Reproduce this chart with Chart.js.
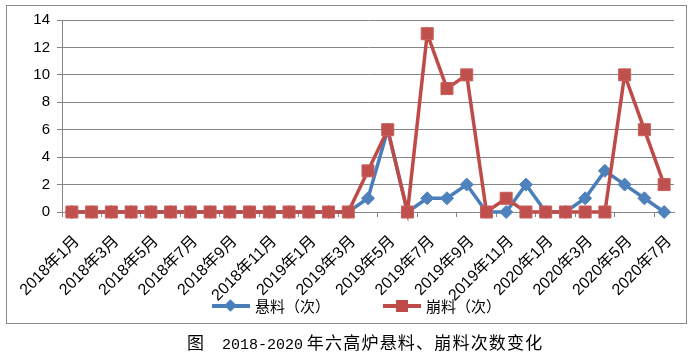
<!DOCTYPE html>
<html>
<head>
<meta charset="utf-8">
<script src="https://cdn.jsdelivr.net/npm/chart.js@4"></script>
<style>
  body { margin: 0; background: #fff; }
  #page { position: relative; width: 691px; height: 352px; overflow: hidden; }
  #frame { position: absolute; left: 6px; top: 5px; width: 679px; height: 317px; border: 1px solid #8a8a8a; }
  #wrap { position: absolute; left: 0; top: 0; width: 691px; height: 352px; }
  #legend { position: absolute; left: 212px; top: 295px; display: flex; align-items: center;
            font: 15px "Noto Sans CJK SC", sans-serif; color: #000; }
  .item { display: flex; align-items: center; margin-right: 53px; }
  .mark { position: relative; width: 38px; height: 14px; margin-right: 5px; }
  .mark .ln { position: absolute; left: 0; top: 5px; width: 38px; height: 4px; }
  .mark .pt { position: absolute; }
  #caption { position: absolute; left: 187px; top: 329px; white-space: nowrap; color: #000;
             font: 17px "Noto Sans CJK SC", sans-serif; }
  #caption .num { font: 15px "Liberation Mono", monospace; }
  #caption .cjk { letter-spacing: 1.2px; }
</style>
</head>
<body>
<div id="page">
  <div id="frame"></div>
  <div id="wrap"><canvas id="chart"></canvas></div>
  <div id="legend"></div>
  <div id="caption"><span>图</span><span style="display:inline-block;width:18px"></span><span class="num">2018-2020</span> <span class="cjk">年六高炉悬料、崩料次数变化</span></div>
</div>
<script>
// months on the x axis
const months = [
  "2018年1月", "2018年2月", "2018年3月", "2018年4月", "2018年5月", "2018年6月",
  "2018年7月", "2018年8月", "2018年9月", "2018年10月", "2018年11月", "2018年12月",
  "2019年1月", "2019年2月", "2019年3月", "2019年4月", "2019年5月", "2019年6月",
  "2019年7月", "2019年8月", "2019年9月", "2019年10月", "2019年11月", "2019年12月",
  "2020年1月", "2020年2月", "2020年3月", "2020年4月", "2020年5月", "2020年6月",
  "2020年7月"
];

// 悬料 (hanging) counts per month
const hangingData = [0, 0, 0, 0, 0, 0, 0, 0, 0, 0, 0, 0, 0, 0, 0,
  1, 6, 0, 1, 1, 2, 0, 0, 2, 0, 0, 1, 3, 2, 1, 0];
// 崩料 (slip) counts per month
const slipData = [0, 0, 0, 0, 0, 0, 0, 0, 0, 0, 0, 0, 0, 0, 0,
  3, 6, 0, 13, 9, 10, 0, 1, 0, 0, 0, 0, 0, 10, 6, 2];

const seriesNames = ["悬料（次）", "崩料（次）"];
const yTicks = [0, 2, 4, 6, 8, 10, 12, 14];

const blue = "#4a7ebb";
const red = "#be4b48";
const gridGray = "#868686";
const tickFont = '"Liberation Sans", "Noto Sans CJK SC", sans-serif';

// html legend, line + marker like the office style
const legend = document.getElementById("legend");
[[seriesNames[0], blue, "diamond"], [seriesNames[1], red, "square"]].forEach(([name, color, shape]) => {
  const item = document.createElement("div");
  item.className = "item";
  const mark = document.createElement("div");
  mark.className = "mark";
  const ln = document.createElement("div");
  ln.className = "ln";
  ln.style.background = color;
  const pt = document.createElement("div");
  pt.className = "pt";
  pt.style.background = color;
  if (shape === "diamond") {
    pt.style.cssText += "width:9px;height:9px;left:14px;top:2px;transform:rotate(45deg);";
  } else {
    pt.style.cssText += "width:12px;height:12px;left:13px;top:1px;";
  }
  mark.appendChild(ln);
  mark.appendChild(pt);
  const txt = document.createElement("span");
  txt.textContent = name;
  item.appendChild(mark);
  item.appendChild(txt);
  legend.appendChild(item);
});

new Chart(document.getElementById("chart"), {
  type: "line",
  data: {
    labels: months,
    datasets: [
      {
        label: seriesNames[0],
        data: hangingData,
        borderColor: blue,
        backgroundColor: "#4f81bd",
        borderWidth: 3.5,
        pointStyle: "rectRot",
        pointRadius: 6.5,
        pointBorderColor: "#4f81bd",
        pointBackgroundColor: "#4f81bd",
        pointBorderWidth: 1,
        tension: 0,
        clip: false,
        order: 1
      },
      {
        label: seriesNames[1],
        data: slipData,
        borderColor: red,
        backgroundColor: "#c0504d",
        borderWidth: 3.5,
        pointStyle: "rect",
        pointRadius: 8.5,
        pointBorderColor: "#c8605d",
        pointBackgroundColor: "#c0504d",
        pointBorderWidth: 1,
        tension: 0,
        clip: false,
        order: 0 // red drawn on top
      }
    ]
  },
  options: {
    responsive: true,
    maintainAspectRatio: false,
    animation: false,
    layout: { padding: { top: 20, right: 17, bottom: 0, left: 0 } },
    plugins: {
      legend: { display: false },
      tooltip: { enabled: false }
    },
    scales: {
      x: {
        offset: true,
        afterFit: (s) => {
          s.height = 140;
          // rotated labels should not squeeze the plot area
          s.paddingLeft = 0;
          s.paddingRight = 0;
        },
        grid: {
          offset: true,
          drawOnChartArea: false,
          drawTicks: true,
          tickLength: 5,
          color: (c) => (c.index % 2 === 0 ? gridGray : "rgba(0,0,0,0)")
        },
        border: { color: gridGray, width: 1 },
        ticks: {
          autoSkip: false,
          minRotation: 45,
          maxRotation: 45,
          padding: 15,
          labelOffset: 5,
          color: "#000",
          font: { family: tickFont, size: 16 },
          // only every second month is labelled
          callback: function (v, i) { return i % 2 === 0 ? months[i] : ""; }
        }
      },
      y: {
        min: 0,
        max: 14,
        afterFit: (s) => { s.width = 62; },
        afterBuildTicks: (s) => { s.ticks = yTicks.map((v) => ({ value: v })); },
        grid: { color: gridGray, lineWidth: 1, drawTicks: true, tickLength: 5 },
        border: { color: gridGray, width: 1 },
        ticks: {
          padding: 7,
          color: "#000",
          font: { family: tickFont, size: 15 }
        }
      }
    }
  }
});
</script>
</body>
</html>
